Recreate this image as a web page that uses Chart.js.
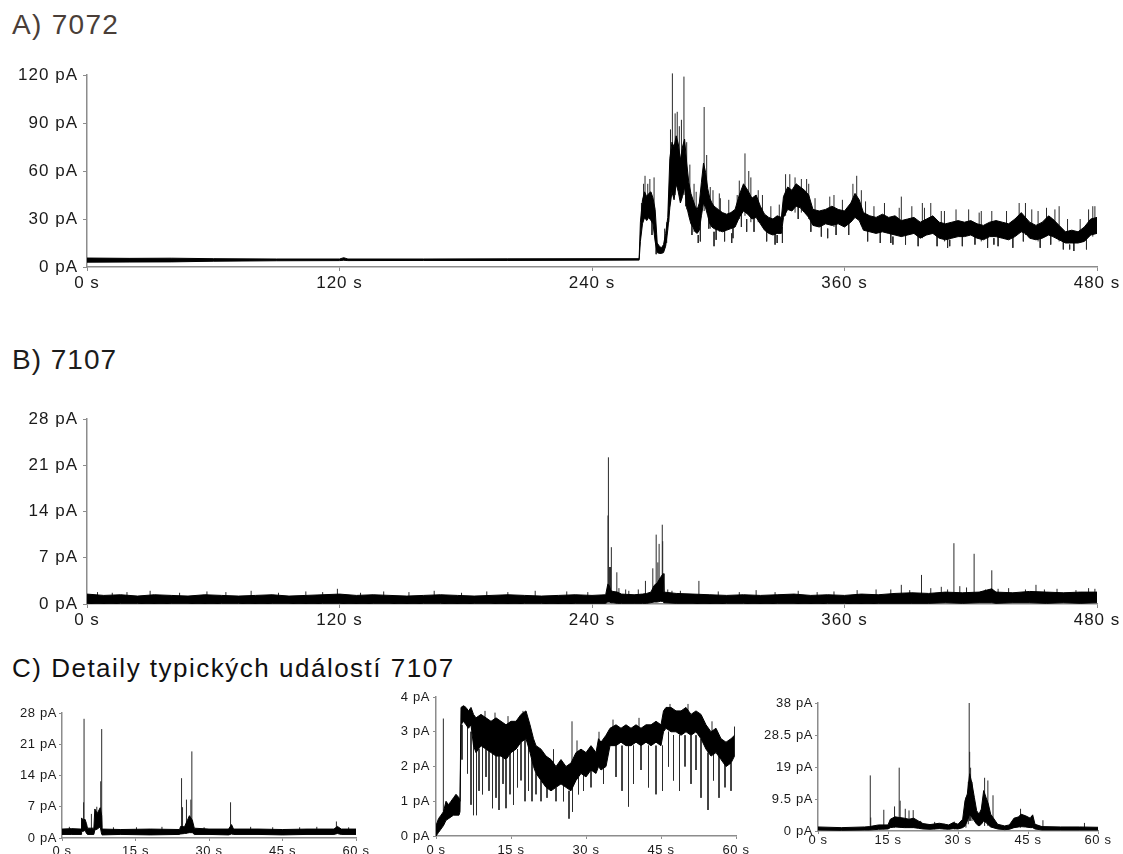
<!DOCTYPE html>
<html>
<head>
<meta charset="utf-8">
<script src="https://cdn.jsdelivr.net/npm/chart.js@4.4.1/dist/chart.umd.min.js"></script>
<style>
  body { margin: 0; width: 1123px; height: 854px; overflow: hidden; background: #fff; position: relative;
         font-family: "Liberation Sans", Arial, sans-serif; }
  .title { position: absolute; left: 12px; line-height: 1; white-space: nowrap; }
  canvas { position: absolute; }
</style>
</head>
<body>
<div class="title" style="top:11px;font-size:28px;letter-spacing:1.3px;color:#4a3e38">A) 7072</div>
<div class="title" style="top:346px;font-size:28px;letter-spacing:1px;color:#1c1c1c">B) 7107</div>
<div class="title" style="top:655px;font-size:26px;letter-spacing:1.5px;color:#111">C) Detaily typických událostí 7107</div>

<canvas id="chartA" width="1123" height="250" style="left:0;top:55px"></canvas>
<canvas id="chartB" width="1123" height="250" style="left:0;top:395px"></canvas>
<canvas id="chartC1" width="380" height="170" style="left:0;top:690px"></canvas>
<canvas id="chartC2" width="390" height="180" style="left:370px;top:680px"></canvas>
<canvas id="chartC3" width="373" height="180" style="left:750px;top:680px"></canvas>

<script>
// noise band of each recording: [time s, lower edge pA, upper edge pA]
// single events and noise excursions drawn as vertical strokes: [time s, from pA, to pA]

// --- A) 7072, 0-480 s
const xTicksA = [0, 120, 240, 360, 480];
const yTicksA = [0, 30, 60, 90, 120];
const bandA = [
  [0, 3.0, 5.6], [20, 3.1, 5.4], [40, 3.2, 5.5], [60, 3.6, 5.2], [90, 3.9, 5.0], [120, 4.0, 5.0],
  [122, 4.2, 5.8], [124, 4.0, 5.0], [160, 4.1, 5.0], [200, 4.1, 5.1], [240, 4.2, 5.2], [262.4, 4.3, 5.2],
  [263, 16, 28], [264, 27, 42], [265, 31, 47], [266, 29, 44], [267, 31, 46], [268, 29, 47], [269, 27, 43],
  [270, 16, 36], [271, 9, 15], [272, 8.5, 13], [273, 8.5, 12], [274, 9, 14], [275, 13, 21], [276, 23, 31],
  [277, 37, 68], [278, 47, 78], [279, 42, 75], [280, 52, 82], [281, 47, 77], [282, 40, 67], [283, 44, 75],
  [284, 50, 80], [285, 38, 65], [286, 32, 53], [287, 27, 46], [288, 25, 42], [289, 22, 38], [290, 21, 36],
  [291, 23, 40], [292, 32, 53], [293, 40, 65], [294, 37, 59], [295, 32, 49], [296, 27, 43], [297, 25, 40],
  [298, 24, 38], [300, 23, 36], [302, 22, 34], [304, 23, 33], [306, 24, 34], [308, 25, 36], [310, 31, 45],
  [312, 35, 52], [314, 33, 48], [316, 30, 43], [318, 31, 45], [320, 27, 38], [322, 23, 33], [324, 21, 31],
  [326, 20, 30], [328, 21, 32], [330, 21, 31], [331, 31, 44], [333, 36, 50], [335, 35, 48], [337, 38, 52],
  [339, 37, 50], [341, 34, 48], [343, 31, 45], [345, 26, 36], [348, 25, 35], [351, 27, 36], [354, 26, 38],
  [357, 27, 36], [360, 25, 35], [363, 28, 40], [365, 31, 46], [367, 29, 42], [369, 23, 34], [372, 22, 32],
  [375, 21, 31], [378, 22, 33], [381, 21, 31], [384, 20, 32], [387, 19, 29], [390, 20, 30], [393, 21, 31],
  [396, 18, 28], [399, 20, 30], [402, 21, 32], [405, 18, 28], [408, 17, 27], [411, 18, 28], [414, 19, 29],
  [417, 19, 28], [420, 20, 29], [423, 18, 27], [426, 17, 26], [429, 19, 28], [432, 19, 29], [435, 18, 28],
  [438, 17, 27], [441, 19, 30], [444, 22, 34], [446, 21, 31], [448, 18, 28], [451, 17, 26], [454, 18, 28],
  [457, 20, 32], [459, 19, 30], [462, 17, 26], [465, 15, 22], [468, 15, 23], [471, 15, 22], [474, 16, 25],
  [477, 20, 30], [480, 21, 31]
];
const spikesA = [
  [264.5, 30, 52], [265.2, 30, 57], [267.5, 30, 55], [269.5, 28, 56], [277.3, 40, 86], [278.2, 45, 121],
  [279.5, 45, 96], [280.5, 50, 97], [282.5, 42, 92], [283.7, 45, 119], [285, 36, 78], [288.5, 22, 52],
  [293.3, 35, 100], [296.2, 24, 50], [300.5, 22, 46], [310, 30, 54], [312.7, 32, 71], [315.5, 28, 56],
  [319, 28, 48], [332, 32, 58], [336.5, 34, 56], [339.5, 34, 55], [343, 30, 52], [355, 25, 45],
  [365.8, 30, 57], [368, 26, 48], [387, 19, 44], [397, 18, 40], [407.5, 16, 35], [425, 16, 35],
  [446, 20, 40], [452, 16, 35], [462, 16, 38], [478, 19, 38],
  [290.5, 20, 15], [298, 22, 13], [306.4, 21, 15], [313.5, 30, 22], [328, 20, 15], [352, 24, 18],
  [383, 19, 14], [410, 17, 13], [431, 18, 14], [467, 14, 11]
];
const fringeA = [
  [263.5, 25, 40], [266.5, 35, 52], [268.5, 35, 20], [276.5, 28, 45], [281.5, 60, 88], [284.5, 60, 38],
  [286.5, 40, 64], [287.5, 35, 20], [289.5, 30, 47], [291.5, 30, 16], [294.5, 45, 70], [295.5, 40, 24],
  [297.5, 30, 48], [299, 30, 17], [301, 28, 43], [303, 28, 16], [305, 28, 42], [307, 28, 18], [309, 30, 45],
  [311, 38, 25], [314.5, 40, 60], [317, 36, 22], [321, 30, 45], [323, 28, 16], [325, 26, 38], [327, 25, 14],
  [329, 26, 39], [330.5, 25, 15], [334, 42, 58], [338, 44, 30], [342, 40, 55], [344, 36, 22], [346, 30, 43],
  [349, 30, 19], [353, 30, 44], [356, 30, 20], [359, 30, 42], [362, 30, 20], [364, 36, 52], [370, 28, 41],
  [371, 26, 16], [374, 26, 38], [377, 25, 15], [379, 27, 40], [382, 25, 15], [386, 25, 37], [389, 24, 14],
  [392, 25, 38], [395, 24, 13], [398, 24, 37], [401, 26, 40], [404, 23, 13], [406, 23, 35], [409, 22, 12],
  [413, 24, 36], [416, 23, 13], [419, 24, 36], [422, 23, 14], [424, 23, 34], [428, 22, 12], [430, 23, 35],
  [433, 23, 13], [437, 23, 35], [440, 22, 12], [443, 25, 40], [445, 26, 16], [449, 23, 36], [453, 22, 12],
  [456, 23, 37], [458, 24, 14], [460, 24, 36], [464, 19, 11], [466, 19, 30], [469, 19, 10], [472, 19, 30],
  [475, 20, 11], [476, 22, 36], [479, 25, 38], [270.5, 20, 8], [274.5, 12, 24], [275.5, 15, 28]
];

// --- B) 7107, 0-480 s
const xTicksB = [0, 120, 240, 360, 480];
const yTicksB = [0, 7, 14, 21, 28];
const bandB = [
  [0, 0.1, 1.5], [8, 0.0, 1.3], [16, 0.1, 1.4], [24, 0.1, 1.2], [32, 0.0, 1.4], [40, 0.1, 1.3],
  [48, 0.1, 1.2], [56, 0.0, 1.4], [64, 0.1, 1.3], [72, 0.1, 1.2], [80, 0.0, 1.3], [88, 0.1, 1.4],
  [96, 0.1, 1.2], [104, 0.0, 1.3], [112, 0.1, 1.4], [120, 0.1, 1.5], [128, 0.0, 1.3], [136, 0.1, 1.4],
  [144, 0.1, 1.3], [152, 0.0, 1.2], [160, 0.1, 1.3], [168, 0.1, 1.4], [176, 0.0, 1.3], [184, 0.1, 1.2],
  [192, 0.1, 1.3], [200, 0.0, 1.4], [208, 0.1, 1.3], [216, 0.1, 1.2], [224, 0.0, 1.3], [232, 0.1, 1.4],
  [240, 0.1, 1.3], [246.5, 0.1, 1.4], [247.5, 0.3, 3.0], [248.2, 0.3, 2.8], [249, 0.2, 2.0], [250, 0.2, 1.9],
  [252, 0.1, 1.8], [254, 0.1, 1.5], [260, 0.1, 1.4], [264, 0.1, 1.5], [266, 0.1, 1.6], [268, 0.2, 1.8],
  [269.5, 0.3, 2.8], [271, 0.3, 3.2], [272.5, 0.4, 4.0], [273.8, 0.4, 4.6], [274.2, 0.2, 1.8], [280, 0.1, 1.6],
  [288, 0.1, 1.5], [296, 0.0, 1.4], [304, 0.1, 1.3], [312, 0.1, 1.4], [320, 0.0, 1.3], [328, 0.1, 1.4],
  [336, 0.1, 1.5], [344, 0.0, 1.3], [352, 0.1, 1.4], [360, 0.1, 1.3], [368, 0.0, 1.5], [376, 0.1, 1.4],
  [384, 0.1, 1.6], [392, 0.1, 1.7], [400, 0.1, 1.6], [408, 0.2, 1.8], [416, 0.1, 1.7], [424, 0.2, 1.8],
  [430, 0.2, 2.3], [432, 0.1, 1.8], [440, 0.2, 1.7], [448, 0.2, 1.9], [456, 0.1, 1.8], [464, 0.2, 1.7],
  [472, 0.1, 1.8], [480, 0.2, 1.8]
];
const spikesB = [
  [247.8, 0.5, 22.2], [247.6, 0.5, 13.4], [248.3, 0.5, 5.6], [248.8, 0.5, 5.6], [249.2, 0.5, 8.6],
  [251.8, 0.5, 4.8], [256, 0.5, 2.2], [265.4, 0.5, 3.5], [268.9, 0.5, 5.4], [270.5, 0.5, 10.5],
  [271.3, 0.5, 6.3], [271.9, 0.5, 9.1], [273.4, 0.5, 12.0], [273.6, 0.5, 9.5], [290.8, 0.5, 3.5],
  [375, 0.5, 2.2], [387, 0.5, 2.9], [396.6, 0.5, 4.4], [406, 0.5, 2.6], [412, 0.5, 9.2], [414.8, 0.5, 2.7],
  [421.6, 0.5, 7.6], [430, 0.5, 5.1], [451, 0.5, 2.9],
  [30, 0.5, 2.0], [57, 0.5, 1.9], [78, 0.5, 2.0], [104, 0.5, 1.9], [119, 0.5, 2.3], [141, 0.5, 1.9],
  [165, 0.5, 2.0], [190, 0.5, 1.9], [213, 0.5, 2.0], [228, 0.5, 1.9], [262, 0.5, 2.2], [282, 0.5, 2.0],
  [300, 0.5, 1.9], [318, 0.5, 2.1], [338, 0.5, 2.0], [355, 0.5, 1.9], [366, 0.5, 2.1], [382, 0.5, 2.2],
  [401, 0.5, 2.4], [418, 0.5, 2.5], [438, 0.5, 2.4], [446, 0.5, 2.2], [461, 0.5, 2.3], [470, 0.5, 2.1],
  [5, 0.5, 1.8], [12, 0.5, 1.7], [19, 0.5, 1.8], [44, 0.5, 1.7], [66, 0.5, 1.8], [91, 0.5, 1.7],
  [112, 0.5, 1.8], [130, 0.5, 1.7], [153, 0.5, 1.8], [178, 0.5, 1.7], [200, 0.5, 1.8], [238, 0.5, 1.8],
  [252.8, 0.5, 2.4], [257.5, 0.5, 2.0], [276, 0.5, 2.2], [278, 0.5, 2.0], [310, 0.5, 1.8], [327, 0.5, 1.8],
  [347, 0.5, 1.8], [391, 0.5, 2.1], [409, 0.5, 2.2], [427, 0.5, 2.2], [433, 0.5, 2.3], [455, 0.5, 2.2],
  [476, 0.5, 2.4], [479, 0.5, 2.3]
];

// --- C) three 60 s details
const xTicksC = [0, 15, 30, 45, 60];
const yTicksC1 = [0, 7, 14, 21, 28];
const yTicksC2 = [0, 1, 2, 3, 4];
const yTicksC3 = [0, 9.5, 19, 28.5, 38];

const bandC1 = [
  [0, 0.8, 2.0], [2, 0.8, 2.1], [3.9, 0.8, 2.0], [4.0, 1.5, 4.5], [4.3, 1.5, 4.0], [4.7, 1.8, 4.2],
  [5.0, 1.0, 3.2], [5.2, 0.8, 2.2], [6.5, 0.8, 2.2], [6.7, 1.8, 6.5], [7.2, 2.0, 5.5], [7.8, 2.5, 6.8],
  [8.1, 0.8, 5.0], [8.2, 0.7, 2.0], [12, 0.8, 1.9], [18, 0.7, 2.0], [24, 0.8, 1.9], [24.2, 0.9, 2.6],
  [25, 1.0, 2.5], [26, 1.2, 5.0], [26.6, 1.2, 4.0], [27, 0.8, 2.2], [30, 0.8, 2.0], [34, 0.7, 2.0],
  [34.6, 0.9, 3.0], [35, 0.8, 2.0], [40, 0.8, 2.0], [45, 0.7, 1.9], [50, 0.8, 2.0], [55.5, 0.8, 2.0],
  [56.2, 1.0, 2.6], [57, 0.8, 2.0], [60, 0.8, 2.0]
];
const spikesC1 = [
  [4.5, 1.5, 26.7], [4.4, 1.5, 8.0], [6.0, 1.0, 5.4], [7.1, 2.0, 7.0], [7.9, 2.5, 12.7], [8.1, 2.5, 24.4],
  [24.4, 1.0, 13.4], [24.6, 1.0, 6.9], [25.4, 1.0, 8.6], [26.3, 1.5, 8.6], [26.5, 1.5, 19.4],
  [34.4, 1.0, 8.0], [56.0, 1.0, 3.7],
  [1.5, 1.2, 2.5], [10.5, 1.2, 2.4], [15.2, 1.2, 2.4], [20.4, 1.2, 2.5], [29.0, 1.2, 2.4], [38.5, 1.2, 2.5],
  [43.0, 1.2, 2.4], [48.5, 1.2, 2.4], [52.0, 1.2, 2.5], [58.5, 1.2, 2.4]
];

const bandC2 = [
  [0, 0.0, 0.3], [0.5, 0.1, 0.5], [1, 0.2, 0.6], [1.5, 0.3, 0.7], [2, 0.45, 1.0], [2.5, 0.5, 0.9],
  [3, 0.55, 1.0], [3.5, 0.6, 1.1], [4, 0.6, 1.2], [4.6, 0.6, 1.1], [4.8, 0.7, 1.0], [5.0, 3.2, 3.7],
  [5.5, 3.3, 3.75], [6, 3.2, 3.7], [6.5, 3.1, 3.6], [7, 3.2, 3.7], [7.5, 2.6, 3.5], [8, 2.4, 3.4],
  [9, 2.6, 3.5], [10, 2.5, 3.4], [11, 2.4, 3.3], [12, 2.3, 3.4], [13, 2.3, 3.3], [14, 2.2, 3.2],
  [15, 2.4, 3.3], [16, 2.5, 3.3], [17, 2.7, 3.5], [18, 2.8, 3.6], [18.8, 2.4, 3.2], [19.5, 2.0, 2.8],
  [20, 1.8, 2.6], [21, 1.6, 2.5], [22, 1.4, 2.3], [23, 1.3, 2.2], [24, 1.4, 2.0], [25, 1.5, 2.2],
  [26, 1.4, 2.0], [27, 1.3, 2.1], [28, 1.6, 2.4], [29, 1.8, 2.5], [30, 1.7, 2.4], [31, 1.9, 2.6],
  [32, 1.8, 2.4], [32.5, 2.0, 2.8], [33, 1.9, 2.7], [34, 2.0, 2.9], [34.8, 2.6, 3.1], [36, 2.6, 3.2],
  [37, 2.7, 3.1], [38, 2.6, 3.2], [39, 2.6, 3.1], [40, 2.7, 3.2], [41, 2.6, 3.1], [42, 2.7, 3.2],
  [43, 2.6, 3.2], [44, 2.7, 3.3], [45, 2.6, 3.2], [45.5, 3.0, 3.6], [46, 3.1, 3.7], [47, 3.0, 3.7],
  [48, 3.0, 3.6], [49, 2.9, 3.6], [50, 3.0, 3.7], [51, 2.9, 3.5], [52, 3.0, 3.6], [53, 2.8, 3.5],
  [54, 2.5, 3.2], [55, 2.3, 3.0], [56, 2.4, 3.1], [57, 2.2, 2.8], [58, 2.0, 2.7], [59, 2.1, 2.8],
  [59.7, 2.3, 2.9]
];
const spikesC2 = [
  [1.47, 0.3, 3.38], [27.2, 2.0, 3.3], [59.7, 2.3, 3.15],
  [5.2, 3.2, 2.2], [6.3, 3.2, 1.8], [7.0, 3.0, 0.9], [7.5, 2.8, 0.6], [8.1, 2.6, 0.6], [8.6, 2.5, 1.3],
  [9.3, 2.6, 1.2], [10.0, 2.5, 1.7], [10.6, 2.6, 1.3], [11.3, 2.4, 0.8], [12.0, 2.4, 1.1], [12.6, 2.3, 0.75],
  [13.4, 2.3, 1.5], [14.0, 2.2, 0.8], [14.8, 2.4, 1.2], [15.5, 2.5, 0.9], [16.3, 2.5, 1.4], [17.0, 2.7, 1.6],
  [17.8, 2.8, 1.0], [18.5, 2.6, 1.3], [19.2, 2.2, 1.0], [20.0, 1.8, 1.2], [21.0, 1.6, 1.0], [22.2, 1.5, 1.1],
  [24.0, 1.4, 1.0], [25.5, 1.5, 1.0], [26.6, 1.3, 0.5], [27.3, 1.6, 0.7], [28.5, 1.7, 1.2], [29.5, 1.8, 1.3],
  [31.0, 1.9, 1.4], [33.5, 2.0, 1.5], [36.0, 2.6, 1.7], [37.2, 2.6, 1.3], [38.5, 2.6, 0.85], [39.5, 2.6, 1.5],
  [41.0, 2.6, 1.9], [42.5, 2.6, 1.4], [44.0, 2.6, 1.2], [45.3, 2.6, 1.3], [46.5, 3.0, 2.0], [47.5, 2.9, 1.6],
  [48.7, 2.9, 1.3], [49.8, 2.9, 2.0], [51.0, 2.9, 1.5], [52.0, 2.9, 1.9], [53.0, 2.8, 1.1], [54.4, 2.4, 0.75],
  [55.5, 2.4, 1.6], [56.6, 2.3, 1.1], [57.8, 2.1, 1.4], [59.0, 2.1, 1.3],
  [9.8, 3.2, 3.6], [11.8, 3.2, 3.55], [14.4, 3.0, 3.45], [17.4, 3.3, 3.6], [23.5, 2.0, 2.5], [28.2, 2.2, 2.75],
  [32.6, 2.6, 3.0], [35.4, 2.9, 3.35], [40.6, 3.0, 3.4], [46.8, 3.5, 3.8], [50.4, 3.5, 3.8], [55.2, 2.8, 3.3]
];

const bandC3 = [
  [0, 0.3, 1.2], [5, 0.2, 1.0], [10, 0.3, 1.2], [11, 0.3, 1.3], [13, 0.5, 1.8], [15, 0.6, 1.8],
  [15.5, 1.0, 3.5], [16.5, 1.2, 4.2], [17.5, 1.1, 4.0], [18.5, 1.0, 3.8], [19.5, 1.0, 3.5], [20.5, 1.0, 3.8],
  [21.5, 0.8, 3.0], [22.5, 0.6, 2.2], [24, 0.5, 1.9], [26, 0.7, 2.3], [28, 0.5, 1.8], [29, 0.7, 2.5],
  [30, 0.6, 2.0], [31, 1.0, 3.5], [31.5, 1.5, 9.0], [32, 3.0, 11.0], [32.5, 5.0, 17.0], [33, 4.0, 14.0],
  [33.5, 3.0, 10.0], [34, 2.0, 6.0], [34.5, 1.5, 5.0], [35, 2.0, 6.5], [35.5, 3.0, 12.0], [36, 2.5, 10.0],
  [36.5, 1.8, 8.0], [37, 1.2, 5.0], [37.5, 1.0, 4.0], [38.5, 0.6, 2.0], [40, 0.4, 1.5], [41, 0.5, 1.8],
  [42, 1.0, 3.8], [43, 1.2, 4.2], [43.5, 1.3, 5.0], [44.5, 1.2, 4.5], [45.5, 1.0, 3.8], [46, 1.0, 4.8],
  [46.5, 0.6, 2.0], [48, 0.3, 1.3], [52, 0.3, 1.2], [56, 0.3, 1.2], [60, 0.3, 1.1]
];
const spikesC3 = [
  [11.2, 0.5, 16.5], [11.3, 0.5, 4.0], [14.1, 0.5, 6.3], [16.4, 1.0, 7.3], [17.4, 1.0, 18.8], [17.6, 1.0, 9.0],
  [18.7, 1.0, 6.6], [19.5, 1.0, 6.1], [20.4, 1.0, 6.2], [22.0, 0.6, 3.0], [25.0, 0.5, 2.7], [27.0, 0.5, 2.2],
  [29.2, 0.5, 2.8], [31.7, 1.0, 10.0], [32.2, 2.0, 14.6], [32.4, 3.0, 38.0], [32.5, 3.0, 23.5],
  [32.7, 3.0, 18.8], [33.0, 3.0, 14.6], [35.7, 1.5, 15.8], [36.4, 1.5, 15.0], [37.5, 1.2, 10.6],
  [42.0, 1.0, 3.7], [43.4, 1.0, 6.6], [45.7, 1.0, 4.4], [48.2, 0.3, 3.2], [57.1, 0.3, 2.4]
];

const AXIS = '#8c8c8c';
const FAMILY = '"Liberation Sans", Arial, sans-serif';

function drawTrace(id, cfg) {
  const upper = cfg.band.map(([t, lo, hi]) => ({ x: t, y: hi }));
  const lower = cfg.band.map(([t, lo, hi]) => ({ x: t, y: lo }));
  const strokes = [];
  cfg.spikes.forEach(([t, a, b]) => strokes.push({ x: t, y: a }, { x: t, y: b }, { x: t, y: null }));

  const font = { family: FAMILY, size: cfg.font, lineHeight: 1 };
  const grid = { drawOnChartArea: false, drawTicks: true, tickLength: cfg.tick, color: AXIS, lineWidth: 1 };
  const border = { display: true, color: AXIS, width: 1.5 };

  new Chart(document.getElementById(id), {
    type: 'line',
    data: {
      datasets: [
        { data: upper, borderColor: '#000', borderWidth: 1, pointRadius: 0, fill: false },
        { data: lower, borderColor: '#000', borderWidth: 1, pointRadius: 0, fill: '-1', backgroundColor: '#000' },
        { data: strokes, borderColor: '#2a2a2a', borderWidth: 1, pointRadius: 0, fill: false, clip: false, spanGaps: false }
      ]
    },
    options: {
      responsive: false,
      animation: false,
      events: [],
      layout: { padding: { top: cfg.top, right: cfg.right, left: 0, bottom: 0 } },
      plugins: { legend: { display: false }, tooltip: { enabled: false } },
      scales: {
        x: {
          type: 'linear',
          min: cfg.xTicks[0],
          max: cfg.xTicks[cfg.xTicks.length - 1],
          afterBuildTicks: s => { s.ticks = cfg.xTicks.map(v => ({ value: v })); },
          afterFit: s => { s.height = cfg.xHeight; s.paddingLeft = 0; s.paddingRight = 0; },
          ticks: { callback: v => v + ' s', font, color: '#1a1a1a', padding: cfg.xPad, maxRotation: 0, autoSkip: false },
          grid, border
        },
        y: {
          min: cfg.yTicks[0],
          max: cfg.yTicks[cfg.yTicks.length - 1],
          afterBuildTicks: s => { s.ticks = cfg.yTicks.map(v => ({ value: v })); },
          afterFit: s => { s.width = cfg.yWidth; s.paddingTop = 0; s.paddingBottom = 0; },
          ticks: { callback: v => v + ' pA', font, color: '#1a1a1a', padding: cfg.yPad, autoSkip: false },
          grid, border
        }
      }
    },
    plugins: [{ id: 'spacing', beforeDraw: c => { c.ctx.letterSpacing = cfg.spacing + 'px'; } }]
  });
}

drawTrace('chartA', { band: bandA, spikes: spikesA.concat(fringeA), xTicks: xTicksA, yTicks: yTicksA,
  font: 17, spacing: 1, tick: 4, xPad: 4, yPad: 5, top: 20, right: 26, yWidth: 87, xHeight: 38 });
drawTrace('chartB', { band: bandB, spikes: spikesB, xTicks: xTicksB, yTicks: yTicksB,
  font: 17, spacing: 1, tick: 4, xPad: 4, yPad: 5, top: 24, right: 26, yWidth: 87, xHeight: 41 });
drawTrace('chartC1', { band: bandC1, spikes: spikesC1, xTicks: xTicksC, yTicks: yTicksC1,
  font: 13, spacing: 0.6, tick: 3, xPad: 4, yPad: 2, top: 23, right: 24, yWidth: 62, xHeight: 22 });
drawTrace('chartC2', { band: bandC2, spikes: spikesC2, xTicks: xTicksC, yTicks: yTicksC2,
  font: 13, spacing: 0.6, tick: 3, xPad: 5, yPad: 3, top: 17, right: 24, yWidth: 66, xHeight: 24 });
drawTrace('chartC3', { band: bandC3, spikes: spikesC3, xTicks: xTicksC, yTicks: yTicksC3,
  font: 13, spacing: 0.6, tick: 3, xPad: 0, yPad: 2, top: 23, right: 25, yWidth: 68, xHeight: 29 });
</script>
</body>
</html>
